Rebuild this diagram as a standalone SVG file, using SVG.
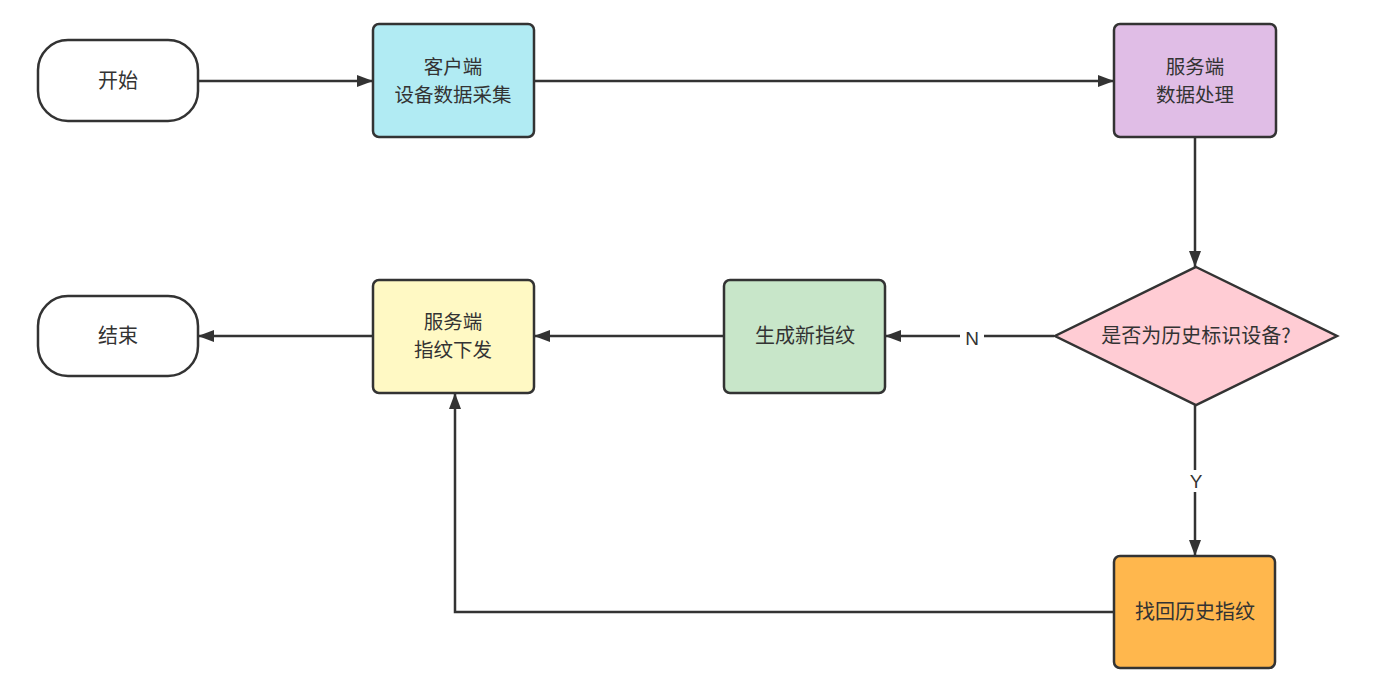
<svg xmlns="http://www.w3.org/2000/svg" width="1374" height="694" viewBox="0 0 1374 694">
<defs>
<style>
.n{stroke:#333;stroke-width:2.5}
.t{font-family:"Noto Sans CJK SC","Liberation Sans",sans-serif;font-size:20px;fill:#333;text-anchor:middle}
.t2{font-family:"Noto Sans CJK SC","Liberation Sans",sans-serif;font-size:19.5px;fill:#333;text-anchor:middle}
.c{fill:none;stroke:#333;stroke-width:2.5}
.lb{font-family:"Liberation Sans","Noto Sans CJK SC",sans-serif;font-size:19px;fill:#333;text-anchor:middle}
</style>
<marker id="ah" viewBox="0 0 16 12" refX="16" refY="6" markerWidth="16" markerHeight="12" markerUnits="userSpaceOnUse" orient="auto">
<path d="M0,0 L16,6 L0,12 Z" fill="#333"/>
</marker>
</defs>
<rect width="1374" height="694" fill="#fff"/>
<g id="connectors">
<path class="c" d="M198,81 L373,81" marker-end="url(#ah)"/>
<path class="c" d="M534,81 L1114,81" marker-end="url(#ah)"/>
<path class="c" d="M1195,137 L1195,267" marker-end="url(#ah)"/>
<path class="c" d="M1054,336 L885,336" marker-end="url(#ah)"/>
<path class="c" d="M724,336 L534,336" marker-end="url(#ah)"/>
<path class="c" d="M373,336 L198,336" marker-end="url(#ah)"/>
<path class="c" d="M1195,405 L1195,556" marker-end="url(#ah)"/>
<path class="c" d="M1114,612 L455,612 L455,393" marker-end="url(#ah)"/>
<rect x="960" y="326" width="24" height="22" fill="#fff"/>
<text class="lb" x="972" y="345">N</text>
<rect x="1185" y="470" width="22" height="22" fill="#fff"/>
<text class="lb" x="1196" y="488">Y</text>
</g>
<g id="start">
<rect class="n" x="38" y="40" width="160" height="81" rx="30" fill="#fff"/>
<text class="t" x="118" y="88">开始</text>
</g>
<g id="client">
<rect class="n" x="373" y="24" width="161" height="113" rx="6" fill="#b1ebf3"/>
<text class="t2" x="453" y="74">客户端</text>
<text class="t2" x="453" y="102">设备数据采集</text>
</g>
<g id="server">
<rect class="n" x="1114" y="24" width="162" height="113" rx="6" fill="#e0bde6"/>
<text class="t2" x="1195" y="74">服务端</text>
<text class="t2" x="1195" y="102">数据处理</text>
</g>
<g id="decision">
<polygon class="n" points="1196,267 1337,336 1196,405 1055,336" fill="#ffccd4"/>
<text class="t" x="1196" y="343">是否为历史标识设备?</text>
</g>
<g id="newfp">
<rect class="n" x="724" y="280" width="161" height="113" rx="6" fill="#c8e6c9"/>
<text class="t" x="805" y="343">生成新指纹</text>
</g>
<g id="dispatch">
<rect class="n" x="373" y="280" width="161" height="113" rx="6" fill="#fff9c4"/>
<text class="t2" x="453" y="329">服务端</text>
<text class="t2" x="453" y="357">指纹下发</text>
</g>
<g id="end">
<rect class="n" x="38" y="296" width="160" height="80" rx="30" fill="#fff"/>
<text class="t" x="118" y="343">结束</text>
</g>
<g id="recover">
<rect class="n" x="1114" y="556" width="161" height="112" rx="6" fill="#ffb74d"/>
<text class="t" x="1195" y="619">找回历史指纹</text>
</g>
</svg>
